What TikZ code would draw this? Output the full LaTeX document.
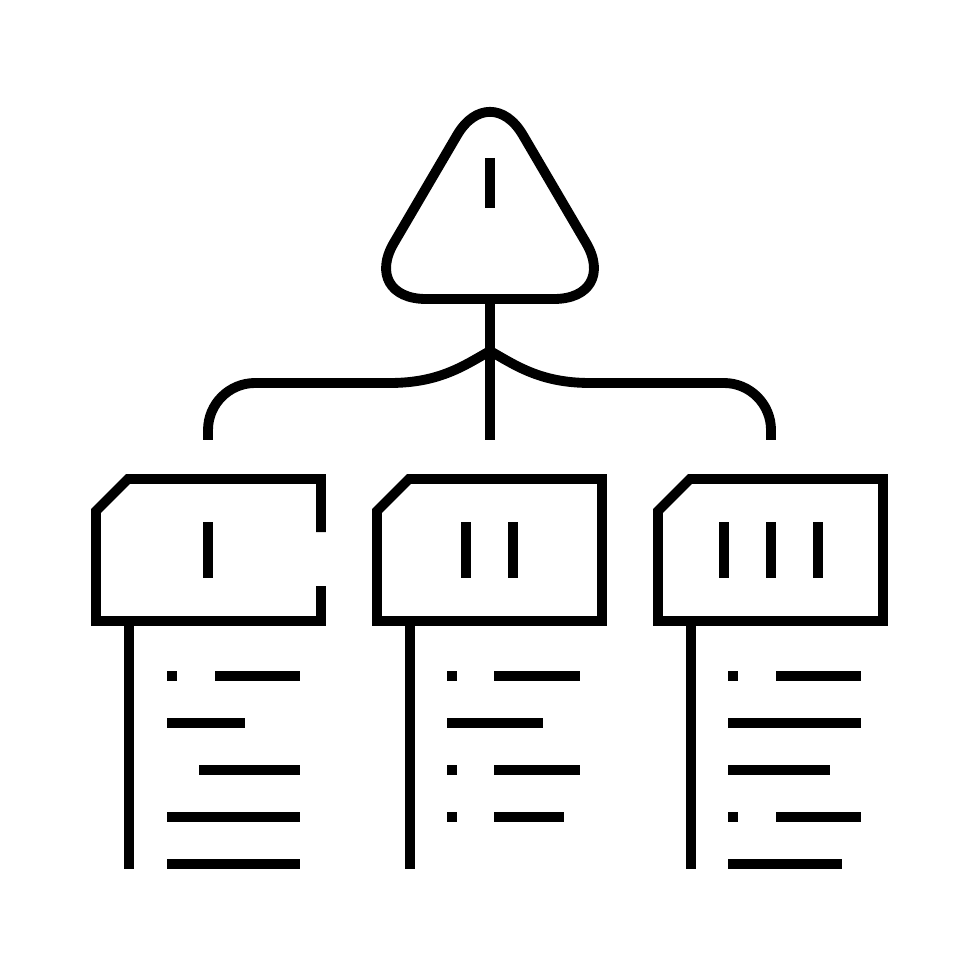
\documentclass[tikz,border=0pt]{standalone}
\begin{document}
\begin{tikzpicture}[x=0.01cm, y=-0.01cm, line width=2.8pt,
  stroke/.style={draw, line cap=butt, line join=miter},
  bar/.style={draw, line cap=butt}]
\useasboundingbox (0,0) rectangle (980,980);
% top triangle
\draw [stroke, rounded corners=0.65cm] (490,299) -- (619,299) -- (490,79) -- (361,299) -- cycle;
\draw [bar] (490,158) -- (490,208);
% fork
\coordinate (top) at (490,299);
\coordinate (fork) at (490,351);
\coordinate (forkl) at (390,383);
\coordinate (forkr) at (590,383);
\draw [stroke] (top) -- (490,440);
\draw [stroke] (forkl) .. controls (440,383) and (465,365) .. (fork)
  .. controls (515,365) and (540,383) .. (forkr);
\draw [stroke, rounded corners=0.47cm] (forkl) -- (208,383) -- (208,440);
\draw [stroke, rounded corners=0.47cm] (forkr) -- (771,383) -- (771,440);
% boxes
\draw [stroke] (321,532) -- (321,479) -- (128,479) -- (96,511) -- (96,621) -- (321,621) -- (321,586);
\foreach \x in {377,658}
  \draw [stroke] (\x,511) -- (\x+32,479) -- (\x+225,479) -- (\x+225,621) -- (\x,621) -- cycle;
\foreach \x in {96,377,658}
  \draw [stroke] (\x+33,621) -- (\x+33,869);
\foreach \b in {208,466,513,724,771,818}
  \draw [bar] (\b,522) -- (\b,578);
% rows
\foreach \a/\b/\y in {167/177/676, 215/300/676, 167/245/723, 199/300/770, 167/300/817, 167/300/864,
  447/457/676, 494/580/676, 447/543/723, 447/457/770, 494/580/770, 447/457/817, 494/564/817,
  728/738/676, 776/861/676, 728/861/723, 728/830/770, 728/738/817, 776/861/817, 728/842/864}
  \draw [bar] (\a,\y) -- (\b,\y);
\end{tikzpicture}
\end{document}
